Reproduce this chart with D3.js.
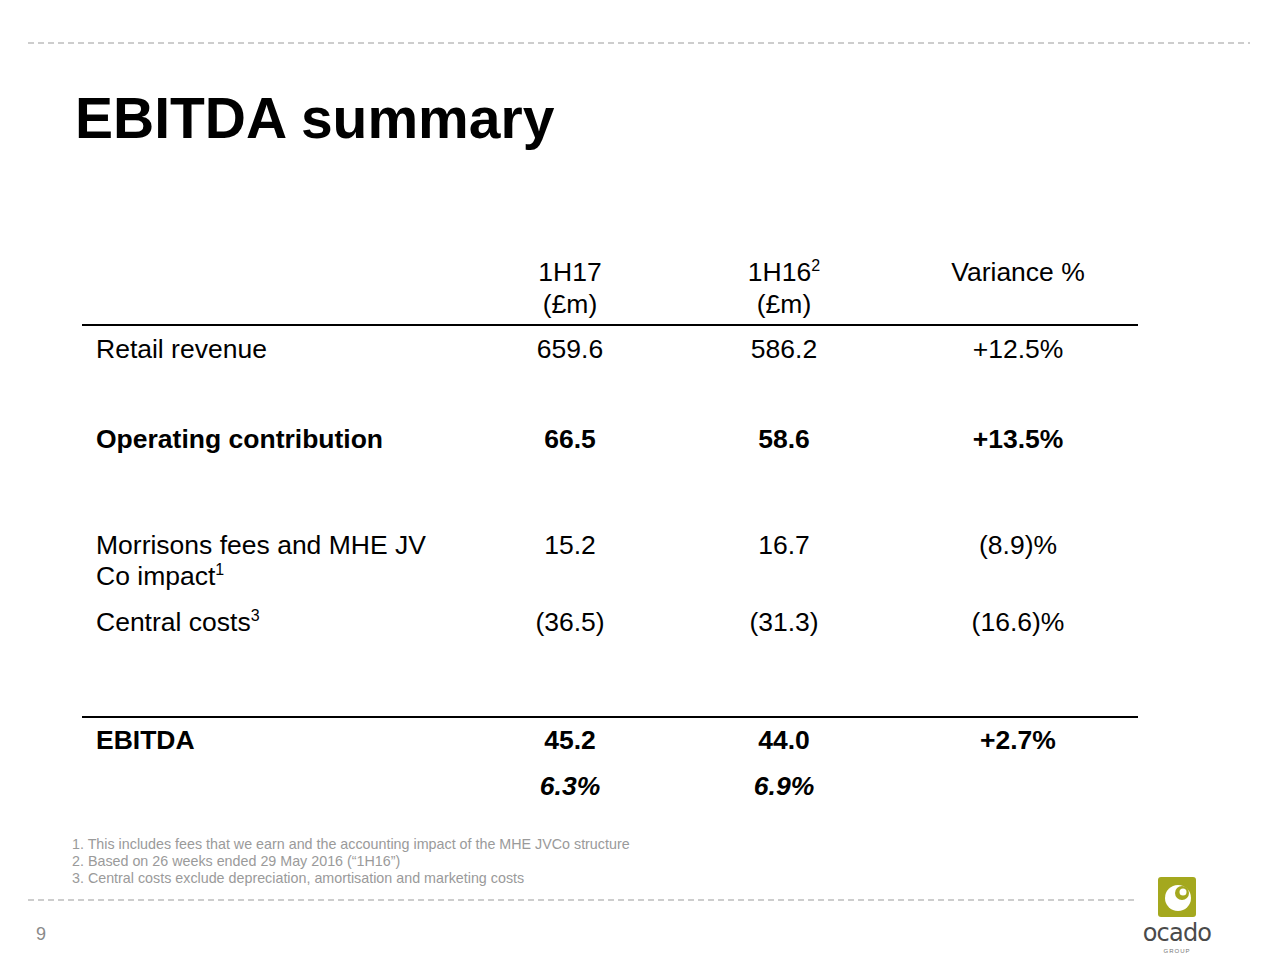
<!DOCTYPE html>
<html><head><meta charset="utf-8">
<script src="https://cdn.jsdelivr.net/npm/d3@7/dist/d3.min.js"></script>
<style>body{margin:0;background:#fff;}svg{display:block;font-family:"Liberation Sans",Arial,sans-serif;}</style>
</head><body>
<script>
const title = "EBITDA summary";
const columns = ["label", "1H17", "1H16", "Variance"];
const headerLine1 = ["", "1H17", "1H16", "Variance %"];
const headerSup = ["", "", "2", ""];
const headerLine2 = ["", "(£m)", "(£m)", ""];
const rowLabels = ["Retail revenue", "Operating contribution", "Morrisons fees and MHE JV", "Central costs", "EBITDA"];
const rowLabelCont = ["", "", "Co impact", "", ""];
const rowLabelSup = ["", "", "1", "3", ""];
const values1H17 = ["659.6", "66.5", "15.2", "(36.5)", "45.2"];
const values1H16 = ["586.2", "58.6", "16.7", "(31.3)", "44.0"];
const variance = ["+12.5%", "+13.5%", "(8.9)%", "(16.6)%", "+2.7%"];
const boldRows = [false, true, false, false, true];
const marginLabels = ["", "6.3%", "6.9%", ""];
const footnotes = [
  "1. This includes fees that we earn and the accounting impact of the MHE JVCo structure",
  "2. Based on 26 weeks ended 29 May 2016 (\u201c1H16\u201d)",
  "3. Central costs exclude depreciation, amortisation and marketing costs"
];
const pageNumber = "9";

const W = 1280, H = 960;
const svg = d3.select("body").append("svg").attr("width", W).attr("height", H);

// column centres
const x = d3.scaleOrdinal().domain(columns).range([96, 570, 784, 1018]);
// row positions (centre y)
const y = d3.scaleOrdinal().domain(rowLabels).range([349, 439, 545, 622, 740]);

// dashed lines
svg.append("line").attr("x1", 28).attr("x2", 1250).attr("y1", 43).attr("y2", 43)
  .attr("stroke", "#bdbdbd").attr("stroke-width", 1.5).attr("stroke-dasharray", "6,4");
svg.append("line").attr("x1", 28).attr("x2", 1136).attr("y1", 900).attr("y2", 900)
  .attr("stroke", "#bdbdbd").attr("stroke-width", 1.5).attr("stroke-dasharray", "6,4");

// title
svg.append("text").attr("x", 75).attr("y", 138).text(title)
  .attr("font-size", 57).attr("font-weight", "bold").attr("fill", "#000");

const fs = 26.5;
// header
columns.forEach((c, i) => {
  if (i === 0) return;
  const t = svg.append("text").attr("x", x(c)).attr("y", 281).attr("text-anchor", "middle")
    .attr("font-size", fs).attr("fill", "#000").text(headerLine1[i]);
  if (headerSup[i]) t.append("tspan").attr("font-size", 16).attr("dy", -10).text(headerSup[i]);
  svg.append("text").attr("x", x(c)).attr("y", 313).attr("text-anchor", "middle")
    .attr("font-size", fs).attr("fill", "#000").text(headerLine2[i]);
});

// rules
[325, 717].forEach(yy => svg.append("line").attr("x1", 82).attr("x2", 1138)
  .attr("y1", yy).attr("y2", yy).attr("stroke", "#000").attr("stroke-width", 2));

// rows
rowLabels.forEach((r, i) => {
  const cy = y(r) + 9;
  const fw = boldRows[i] ? "bold" : "normal";
  const lab = svg.append("text").attr("x", x("label")).attr("y", cy)
    .attr("font-size", fs).attr("font-weight", fw).attr("fill", "#000").text(r);
  if (rowLabelCont[i]) {
    const t2 = svg.append("text").attr("x", x("label")).attr("y", cy + 31)
      .attr("font-size", fs).attr("fill", "#000").text(rowLabelCont[i]);
    if (rowLabelSup[i]) t2.append("tspan").attr("font-size", 16).attr("dy", -10).text(rowLabelSup[i]);
  } else if (rowLabelSup[i]) {
    lab.append("tspan").attr("font-size", 16).attr("dy", -10).text(rowLabelSup[i]);
  }
  [[values1H17, "1H17"], [values1H16, "1H16"], [variance, "Variance"]].forEach(([arr, c]) => {
    svg.append("text").attr("x", x(c)).attr("y", cy).attr("text-anchor", "middle")
      .attr("font-size", fs).attr("font-weight", fw).attr("fill", "#000").text(arr[i]);
  });
});

// margins (italic bold)
columns.forEach((c, i) => {
  if (!marginLabels[i]) return;
  svg.append("text").attr("x", x(c)).attr("y", 795).attr("text-anchor", "middle")
    .attr("font-size", fs).attr("font-weight", "bold").attr("font-style", "italic")
    .attr("fill", "#000").text(marginLabels[i]);
});

// footnotes
footnotes.forEach((f, i) => {
  svg.append("text").attr("x", 72).attr("y", 849 + i * 17).attr("font-size", 14.3)
    .attr("fill", "#9a9a9a").text(f);
});

// page number
svg.append("text").attr("x", 36).attr("y", 940).attr("font-size", 18).attr("fill", "#8a8a8a").text(pageNumber);

// logo
const g = svg.append("g");
g.append("rect").attr("x", 1158).attr("y", 877).attr("width", 38).attr("height", 40).attr("rx", 3).attr("fill", "#a4a81e");
g.append("circle").attr("cx", 1178).attr("cy", 898).attr("r", 13).attr("fill", "#fff");
g.append("circle").attr("cx", 1182).attr("cy", 893).attr("r", 7).attr("fill", "#a4a81e");
g.append("circle").attr("cx", 1183).attr("cy", 892).attr("r", 3.5).attr("fill", "#fff");
g.append("text").attr("x", 1177).attr("y", 941).attr("text-anchor", "middle").attr("font-size", 24)
  .attr("font-family", "DejaVu Sans, sans-serif").attr("fill", "#4a4a4a").attr("letter-spacing", -0.8).text("ocado");
g.append("text").attr("x", 1177).attr("y", 953).attr("text-anchor", "middle").attr("font-size", 6)
  .attr("fill", "#777").attr("letter-spacing", 1).text("GROUP");
</script>
</body></html>
